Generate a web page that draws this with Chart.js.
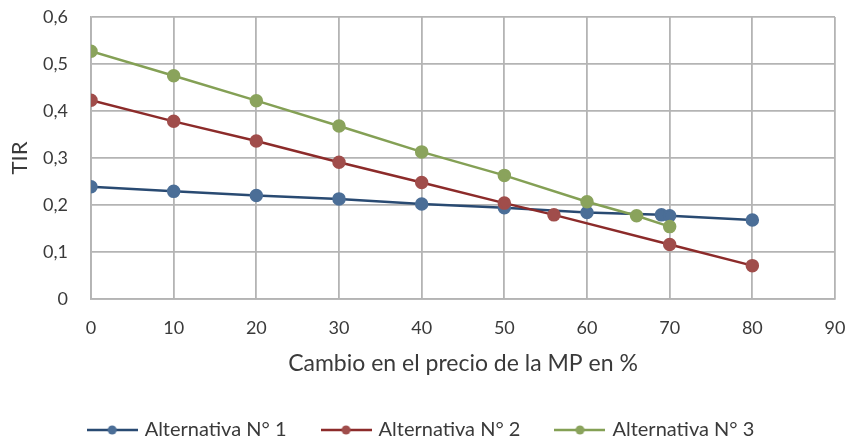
<!DOCTYPE html>
<html>
<head>
<meta charset="utf-8">
<script src="https://cdn.jsdelivr.net/npm/chart.js@4.4.1/dist/chart.umd.min.js"></script>
<style>
  html, body { margin: 0; padding: 0; background: #fff; }
  #wrap { width: 846px; height: 441px; }
</style>
</head>
<body>
<div id="wrap"><canvas id="tirChart" width="846" height="441"></canvas></div>
<script>
// data
const xTicks = [0, 10, 20, 30, 40, 50, 60, 70, 80, 90];
const yTicks = [0, 0.1, 0.2, 0.3, 0.4, 0.5, 0.6];

const seriesNames = ['Alternativa N° 1', 'Alternativa N° 2', 'Alternativa N° 3'];

const xAlt1 = [0, 10, 20, 30, 40, 50, 60, 69, 70, 80];
const yAlt1 = [0.239, 0.229, 0.220, 0.213, 0.202, 0.194, 0.184, 0.179, 0.177, 0.168];

const xAlt2 = [0, 10, 20, 30, 40, 50, 56, 70, 80];
const yAlt2 = [0.423, 0.378, 0.336, 0.291, 0.248, 0.204, 0.179, 0.116, 0.071];

const xAlt3 = [0, 10, 20, 30, 40, 50, 60, 66, 70];
const yAlt3 = [0.527, 0.475, 0.422, 0.368, 0.313, 0.263, 0.207, 0.177, 0.154];

const lineColors = ['#294A72', '#8C2B2A', '#84A055'];
const markerColors = ['#4B6E97', '#A04D4B', '#8AA35C'];

const FONT = 'Lato, "Open Sans", sans-serif';
const TXT = '#3a3a3a';
const GRID = '#b4b4b4';

const toPoints = (xs, ys) => xs.map((x, i) => ({ x: x, y: ys[i] }));

// line + dot sample for the legend (Excel style)
function swatch(lineColor, dotColor) {
  const c = document.createElement('canvas');
  c.width = 51; c.height = 12;
  const g = c.getContext('2d');
  g.strokeStyle = lineColor;
  g.lineWidth = 2.5;
  g.beginPath(); g.moveTo(0, 6); g.lineTo(51, 6); g.stroke();
  g.fillStyle = dotColor;
  g.beginPath(); g.arc(25.5, 6, 4.5, 0, Math.PI * 2); g.fill();
  return c;
}
const swatches = lineColors.map((c, i) => swatch(c, markerColors[i]));

const commaLabel = v => {
  const r = Math.round(v * 10) / 10;
  return r === 0 ? '0' : r.toFixed(1).replace('.', ',');
};

const datasets = [
  { label: seriesNames[0], data: toPoints(xAlt1, yAlt1), order: 3 },
  { label: seriesNames[1], data: toPoints(xAlt2, yAlt2), order: 2 },
  { label: seriesNames[2], data: toPoints(xAlt3, yAlt3), order: 1 }
].map((d, i) => Object.assign(d, {
  borderColor: lineColors[i],
  backgroundColor: markerColors[i],
  pointBackgroundColor: markerColors[i],
  pointBorderColor: markerColors[i],
  pointRadius: 5.5,
  pointHoverRadius: 5.5,
  borderWidth: 2.5,
  tension: 0,
  fill: false
}));

new Chart(document.getElementById('tirChart'), {
  type: 'line',
  data: { datasets: datasets },
  options: {
    responsive: false,
    animation: false,
    devicePixelRatio: 1,
    layout: { padding: { left: 9, right: 11, top: 17, bottom: -9 } },
    plugins: {
      tooltip: { enabled: false },
      legend: {
        position: 'bottom',
        labels: {
          usePointStyle: true,
          pointStyleWidth: 45,
          boxHeight: 12,
          padding: 37,
          color: TXT,
          font: { family: FONT, size: 20 },
          sort: (a, b) => a.datasetIndex - b.datasetIndex,
          generateLabels: chart => {
            const items = Chart.defaults.plugins.legend.labels.generateLabels(chart);
            items.forEach(it => { it.pointStyle = swatches[it.datasetIndex]; });
            return items;
          }
        }
      }
    },
    scales: {
      x: {
        type: 'linear',
        min: 0,
        max: 90,
        afterBuildTicks: s => { s.ticks = xTicks.map(v => ({ value: v })); },
        afterFit: s => { s.height = 84; },
        ticks: { padding: 0, color: TXT, font: { family: FONT, size: 18 } },
        grid: { color: GRID, lineWidth: 1.8, drawTicks: true, tickLength: 18, tickColor: 'rgba(0,0,0,0)' },
        border: { color: GRID, width: 1.8 },
        title: {
          display: true,
          text: 'Cambio en el precio de la MP en %',
          color: TXT,
          font: { family: FONT, size: 23 },
          padding: { top: 0, bottom: 6 }
        }
      },
      y: {
        min: 0,
        max: 0.6,
        afterBuildTicks: s => { s.ticks = yTicks.map(v => ({ value: v })); },
        afterFit: s => { s.width = 82; },
        ticks: { padding: 0, color: TXT, font: { family: FONT, size: 18 }, callback: commaLabel },
        grid: { color: GRID, lineWidth: 1.8, drawTicks: true, tickLength: 23, tickColor: 'rgba(0,0,0,0)' },
        border: { color: GRID, width: 1.8 },
        title: {
          display: true,
          text: 'TIR',
          color: TXT,
          font: { family: FONT, size: 22 },
          padding: { top: -2, bottom: 0 }
        }
      }
    }
  }
});
</script>
</body>
</html>
